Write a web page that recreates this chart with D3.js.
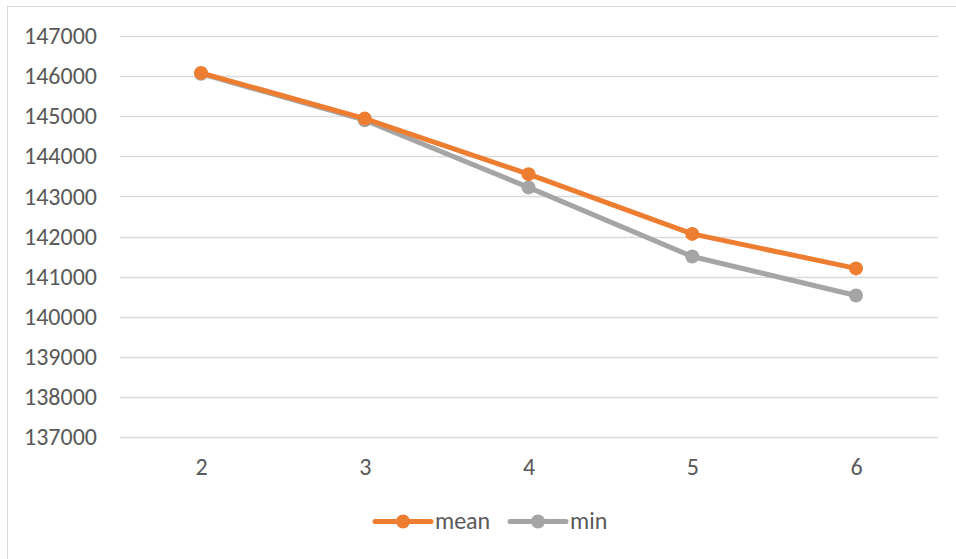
<!DOCTYPE html>
<html><head><meta charset="utf-8">
<script src="https://cdn.jsdelivr.net/npm/d3@7"></script>
<style>body{margin:0;background:#fff}svg{display:block}text{font-family:Carlito,Calibri,"Open Sans",sans-serif;fill:#595959}</style>
</head><body><svg id="c" width="956" height="559"></svg>
<script>
const categories = ["2","3","4","5","6"];
const meanValues = [146080, 144940, 143555, 142065, 141205];
const minValues = [146060, 144900, 143225, 141500, 140530];
const yTicks = [137000,138000,139000,140000,141000,142000,143000,144000,145000,146000,147000];
const seriesNames = ["mean","min"];
const colors = ["#ED7D31","#A5A5A5"];

const svg = d3.select("#c");
svg.append("rect").attr("x",7.5).attr("y",6.5).attr("width",960).attr("height",560)
  .attr("fill","#fff").attr("stroke","#D9D9D9").attr("stroke-width",1);

const x = d3.scalePoint().domain(categories).range([201, 856]);
const y = d3.scaleLinear().domain([137000,147000]).range([437, 36]);

const grid = svg.append("g");
grid.selectAll("line").data(yTicks).join("line")
  .attr("x1",120).attr("x2",938)
  .attr("y1",d=>Math.round(y(d))+0.5).attr("y2",d=>Math.round(y(d))+0.5)
  .attr("stroke","#D9D9D9").attr("stroke-width",1.5);

const yAxis = svg.append("g").attr("transform","translate(97,0)")
  .call(d3.axisLeft(y).tickValues(yTicks).tickFormat(d3.format("d")).tickSize(0).tickPadding(0));
yAxis.select(".domain").remove();
yAxis.selectAll("text").style("font-size","24px").attr("fill","#595959").attr("dy","0.32em");

const xAxis = svg.append("g").attr("transform","translate(0,437)")
  .call(d3.axisBottom(x).tickSize(0).tickPadding(0));
xAxis.select(".domain").remove();
xAxis.selectAll("text").style("font-size","24px").attr("fill","#595959").attr("y",38).attr("dy","0");

const series = [meanValues, minValues];
const line = d3.line().x((d,i)=>x(categories[i])).y(d=>y(d));
[1,0].forEach(s=>{
  const g = svg.append("g");
  g.append("path").datum(series[s]).attr("d",line).attr("fill","none")
    .attr("stroke",colors[s]).attr("stroke-width",5).attr("stroke-linejoin","round").attr("stroke-linecap","round");
  g.selectAll("circle").data(series[s]).join("circle")
    .attr("cx",(d,i)=>x(categories[i])).attr("cy",d=>y(d)).attr("r",7).attr("fill",colors[s]);
});

// legend
const legendX = [375, 510];
const lg = svg.append("g");
seriesNames.forEach((n,i)=>{
  const lx = legendX[i], ly = 521.5;
  lg.append("line").attr("x1",lx).attr("x2",lx+56).attr("y1",ly).attr("y2",ly)
    .attr("stroke",colors[i]).attr("stroke-width",5).attr("stroke-linecap","round");
  lg.append("circle").attr("cx",lx+28).attr("cy",ly).attr("r",7).attr("fill",colors[i]);
  lg.append("text").attr("x",lx+60).attr("y",ly).attr("dy","0.32em").style("font-size","24px").text(n);
});
</script></body></html>
